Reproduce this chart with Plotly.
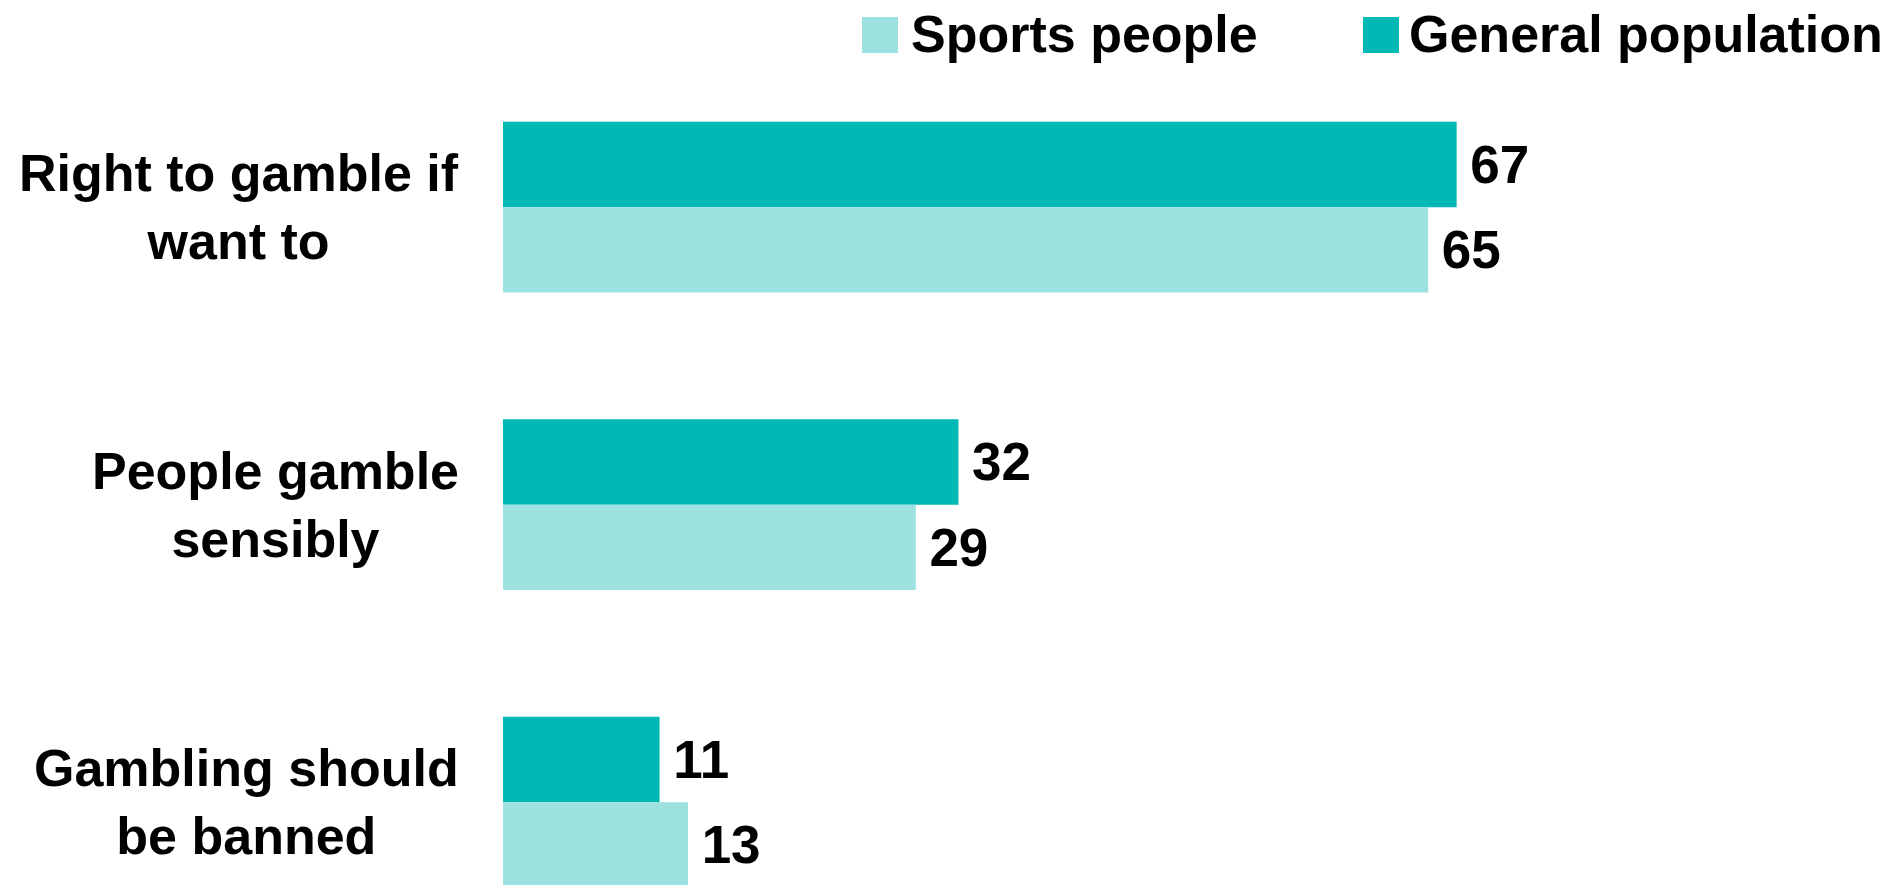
import plotly.graph_objects as go

categories = ["Right to gamble if<br>want to", "People gamble<br>sensibly", "Gambling should<br>be banned"]
series_names = ["Sports people", "General population"]
sports_people = [65, 29, 13]
general_population = [67, 32, 11]
colors = {"Sports people": "#9DE2E1", "General population": "#00B8B4"}

W, H = 1894, 885
ML, MR, MT, MB = 503, 110, 50, 0
FONT = "Liberation Sans, Arial, sans-serif"
FS_VAL = 53
FS_CAT = 52
FS_LEG = 52

def px2paper_x(px):
    return (px - ML) / (W - ML - MR)

def px2paper_y(py):
    return (H - MB - py) / (H - MT - MB)

fig = go.Figure()
ypos = list(range(len(categories)))
for name, vals in [("General population", general_population), ("Sports people", sports_people)]:
    fig.add_trace(go.Bar(
        y=ypos, x=vals, orientation="h", name=name,
        marker=dict(color=colors[name], line=dict(width=0)),
        text=[f"\u2009{v}" for v in vals], textposition="outside",
        textfont=dict(family=FONT, size=FS_VAL, color="black", weight="bold"),
        constraintext="none", cliponaxis=False, showlegend=False,
    ))

# category labels (centered multi-line)
for i, c in enumerate(categories):
    fig.add_annotation(x=0, xref="paper", y=i, yref="y", text=c, showarrow=False,
                       xanchor="right", yanchor="middle", align="center", xshift=-42,
                       font=dict(family=FONT, size=FS_CAT, color="black", weight="bold"))

# legend (large swatches)
legend_items = [("Sports people", 862, 909), ("General population", 1363, 1407)]
for name, sx, tx in legend_items:
    fig.add_shape(type="rect", xref="paper", yref="paper",
                  x0=px2paper_x(sx), x1=px2paper_x(sx + 36),
                  y0=px2paper_y(53), y1=px2paper_y(17),
                  fillcolor=colors[name], line=dict(width=0))
    fig.add_annotation(x=px2paper_x(tx), xref="paper", y=px2paper_y(34), yref="paper",
                       text=name, showarrow=False, xanchor="left", yanchor="middle",
                       font=dict(family=FONT, size=FS_LEG, color="black", weight="bold"))

fig.update_layout(
    width=W, height=H,
    margin=dict(l=ML, r=MR, t=MT, b=MB, pad=0),
    barmode="group", bargap=0.426, bargroupgap=0,
    plot_bgcolor="white", paper_bgcolor="white",
    showlegend=False,
    xaxis=dict(range=[0, 90], visible=False, showgrid=False, zeroline=False),
    yaxis=dict(range=[2.2785, -0.5285], showticklabels=False, showgrid=False,
               zeroline=False, showline=False, ticks=""),
)
fig.write_html("out.html")
